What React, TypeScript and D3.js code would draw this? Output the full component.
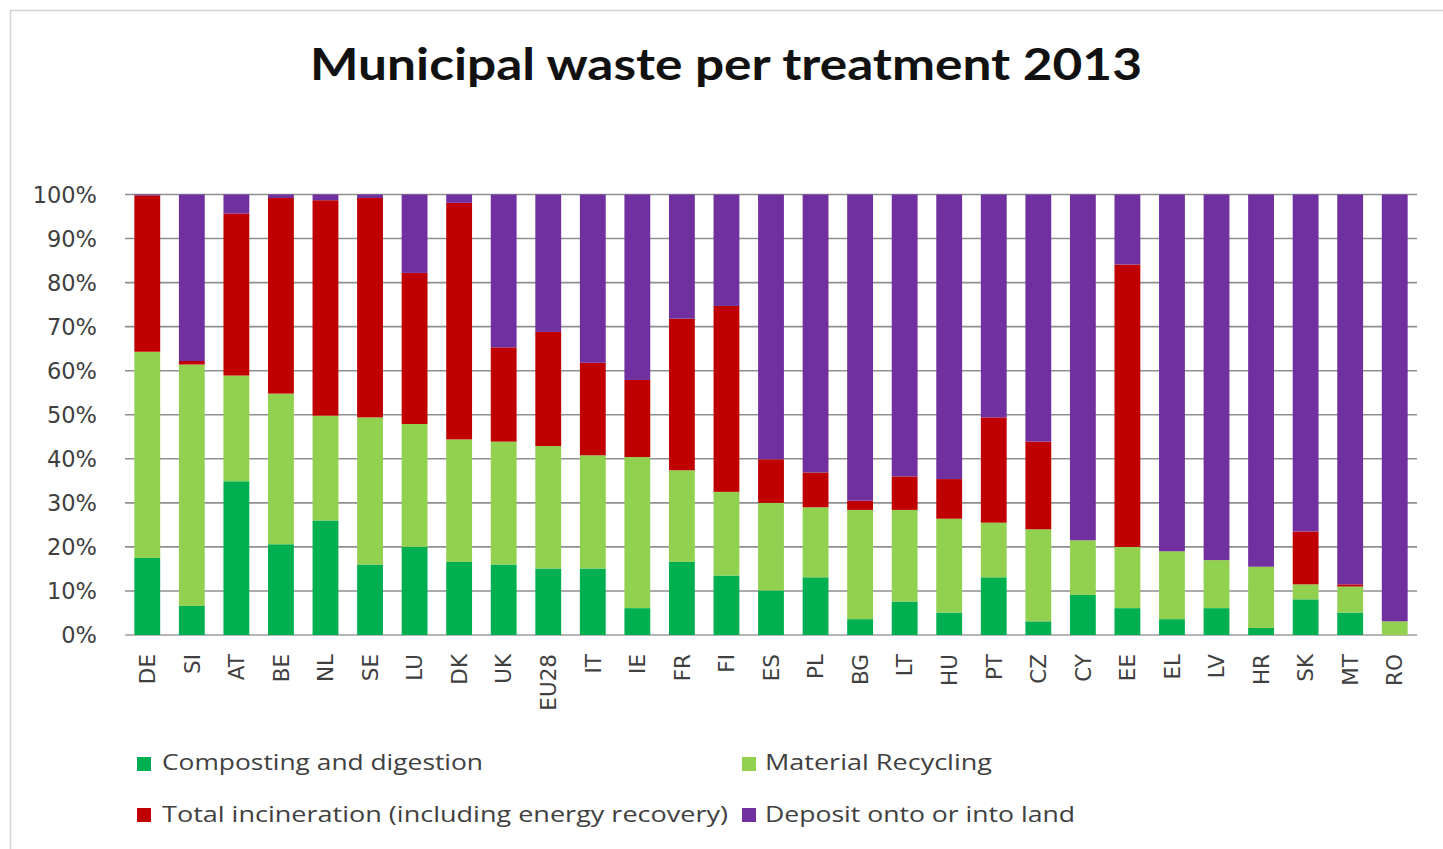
import React from "react";
import * as d3 from "d3";

const categories = ["DE","SI","AT","BE","NL","SE","LU","DK","UK","EU28","IT","IE","FR","FI","ES","PL","BG","LT","HU","PT","CZ","CY","EE","EL","LV","HR","SK","MT","RO"];
const composting = [17.5,6.6,34.9,20.6,26.0,16.0,20.0,16.6,16.0,15.1,15.1,6.1,16.6,13.5,10.1,13.1,3.6,7.6,5.1,13.1,3.1,9.1,6.1,3.6,6.1,1.6,8.1,5.1,0];
const recycling = [46.8,54.8,24.0,34.2,23.8,33.4,27.9,27.8,27.9,27.8,25.7,34.3,20.8,19.0,19.9,15.9,24.8,20.8,21.3,12.4,20.9,12.4,13.9,15.4,10.9,13.9,3.4,5.9,3.1];
const incineration = [35.5,0.8,36.8,44.4,48.9,49.8,34.3,53.7,21.4,25.9,21.0,17.5,34.4,42.2,9.9,7.9,2.1,7.6,9.0,23.9,19.9,0,64.1,0,0,0,12.0,0.5,0];
const land = [0.2,37.8,4.3,0.8,1.3,0.8,17.8,1.9,34.7,31.2,38.2,42.1,28.2,25.3,60.1,63.1,69.5,64.0,64.6,50.6,56.1,78.5,15.9,81.0,83.0,84.5,76.5,88.5,96.9];
const seriesNames = ["Composting and digestion","Material Recycling","Total incineration (including energy recovery)","Deposit onto or into land"];
const seriesColors = ["#00B050","#92D050","#C00000","#7030A0"];
const yTicks = [0,10,20,30,40,50,60,70,80,90,100];
const title = "Municipal waste per treatment 2013";

export default function App() {
  const W = 1443, H = 849;
  const x = d3.scaleBand<string>().domain(categories).range([125, 1417]).paddingInner(0.42).paddingOuter(0.21);
  const y = d3.scaleLinear().domain([0, 100]).range([635, 194.5]);
  const rows = categories.map((c, i) => ({
    cat: c,
    s0: composting[i], s1: recycling[i], s2: incineration[i], s3: land[i],
  }));
  const stack = d3.stack<any>().keys(["s0","s1","s2","s3"]).offset(d3.stackOffsetExpand);
  const layers = stack(rows);
  const textColor = "#404040";

  const legend = [
    { i: 0, sx: 137, sy: 757, tx: 162, ty: 770, len: 321 },
    { i: 1, sx: 742, sy: 757, tx: 765, ty: 770, len: 227 },
    { i: 2, sx: 137, sy: 808, tx: 162, ty: 822, len: 566 },
    { i: 3, sx: 742, sy: 808, tx: 765, ty: 822, len: 310 },
  ];

  return (
    <svg width={W} height={H} style={{ position: "absolute", left: 0, top: 0, background: "#fff" }}>
      <rect x={10.5} y={10.5} width={1460} height={900} fill="#fff" stroke="#d4d4d4" strokeWidth={1.5} />
      <text x={726} y={80} textAnchor="middle" fontFamily="Lato, 'Open Sans', sans-serif" fontWeight={700} fontSize={44} fill="#111" textLength={832} lengthAdjust="spacingAndGlyphs">{title}</text>
      {yTicks.map(t => (
        <g key={t}>
          <line x1={125} x2={1417} y1={y(t)} y2={y(t)} stroke={t === 0 ? "#b5b5b5" : "#8f8f8f"} strokeWidth={t === 0 ? 2 : 1.6} />
          <text x={97} y={y(t)} dy="0.36em" textAnchor="end" fontFamily="'DejaVu Sans', sans-serif" fontSize={22.5} fill={textColor}>{t + "%"}</text>
        </g>
      ))}
      {layers.map((layer, li) => (
        <g key={li} fill={seriesColors[li]}>
          {layer.map((d: any, i: number) => {
            const h = y(d[0] * 100) - y(d[1] * 100);
            if (h <= 0) return null;
            return <rect key={i} x={x(categories[i])} y={y(d[1] * 100)} width={x.bandwidth()} height={h} />;
          })}
        </g>
      ))}
      {categories.map(c => {
        const cx = (x(c) as number) + x.bandwidth() / 2;
        return (
          <text key={c} transform={`translate(${cx},654) rotate(-90)`} dy="0.36em" textAnchor="end" fontFamily="'DejaVu Sans', sans-serif" fontSize={21.5} fill={textColor}>{c}</text>
        );
      })}
      {legend.map(l => (
        <g key={l.i}>
          <rect x={l.sx} y={l.sy} width={14} height={14} fill={seriesColors[l.i]} />
          <text x={l.tx} y={l.ty} fontFamily="'Open Sans', sans-serif" fontSize={22} fill={textColor} textLength={l.len} lengthAdjust="spacingAndGlyphs">{seriesNames[l.i]}</text>
        </g>
      ))}
    </svg>
  );
}
